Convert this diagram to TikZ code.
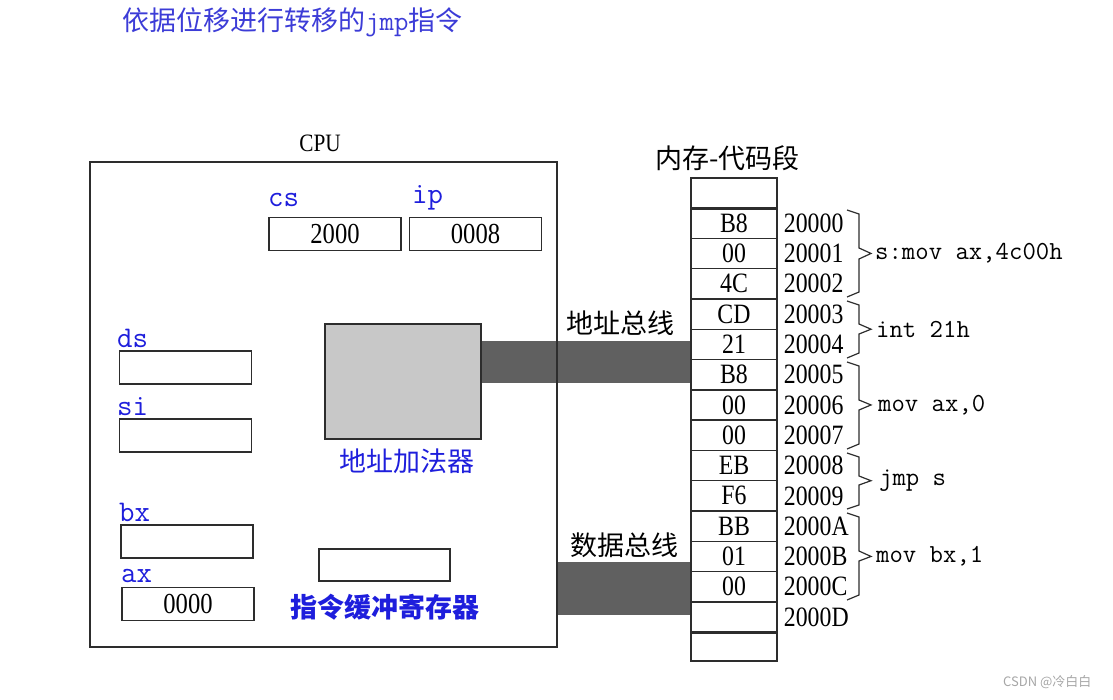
\documentclass[tikz,border=0pt]{standalone}
\usepackage{fontspec}
\newfontfamily\cjk{Noto Sans CJK SC}
\newfontfamily\numfont{Liberation Serif}[FakeStretch=0.85]
\usetikzlibrary{positioning}
\definecolor{regblue}{RGB}{30,30,220}
\definecolor{titleblue}{RGB}{60,60,215}
\definecolor{busgray}{RGB}{96,96,96}
\definecolor{addergray}{RGB}{200,200,200}
\definecolor{linegray}{RGB}{45,45,45}

\tikzset{
  box/.style={draw=linegray, line width=1.4pt, inner sep=0pt},
  reg/.style={box, minimum width=132pt, minimum height=33pt, font=\numfont\fontsize{29}{30}\selectfont},
  cell/.style={box, minimum width=86pt, minimum height=30.3pt, font=\numfont\fontsize{28}{30}\selectfont},
  addr/.style={inner sep=0pt, font=\numfont\fontsize{28}{30}\selectfont},
  regname/.style={anchor=west, inner sep=0pt, text=regblue, font=\ttfamily\fontsize{30}{30}\selectfont},
  code/.style={anchor=west, inner sep=0pt, font=\ttfamily\fontsize{26}{30}\selectfont},
  cjklabel/.style={inner sep=0pt, font=\cjk\fontsize{27}{30}\selectfont},
  bus/.style={busgray},
  brace/.style={linegray, line width=1.2pt},
}

\begin{document}
\begin{tikzpicture}[x=1pt, y=-1pt]
    \useasboundingbox (0,0) rectangle (1113,699);
    % title
    \node[cjklabel, anchor=west, text=titleblue] (title) at (122,22) {依据位移进行转移的{\ttfamily\fontsize{28}{30}\selectfont jmp}指令};

    % memory
    \node[cjklabel, anchor=west] (memlabel) at (655,158) {内存-代码段};
    \node[cell, minimum height=30pt] (top) at (734,193) {};
    \node[cell] (c0) at (734,223.15) {B8};
    \node[cell] (c1) at (734,253.45) {00};
    \node[cell] (c2) at (734,283.75) {4C};
    \node[cell] (c3) at (734,314.05) {CD};
    \node[cell] (c4) at (734,344.35) {21};
    \node[cell] (c5) at (734,374.65) {B8};
    \node[cell] (c6) at (734,404.95) {00};
    \node[cell] (c7) at (734,435.25) {00};
    \node[cell] (c8) at (734,465.55) {EB};
    \node[cell] (c9) at (734,495.85) {F6};
    \node[cell] (c10) at (734,526.15) {BB};
    \node[cell] (c11) at (734,556.45) {01};
    \node[cell] (c12) at (734,586.75) {00};
    \node[cell] (c13) at (734,617.05) {};
    \node[cell, minimum height=29pt] (bottom) at (734,646.5) {};
    \draw[linegray, line width=2.6pt] (top.south west) -- (top.south east);
    \draw[linegray, line width=2.6pt] (c13.south west) -- (c13.south east);

    % addresses
    \node[addr, right=6pt of c0] (a0) {20000};
    \node[addr, right=6pt of c1] (a1) {20001};
    \node[addr, right=6pt of c2] (a2) {20002};
    \node[addr, right=6pt of c3] (a3) {20003};
    \node[addr, right=6pt of c4] (a4) {20004};
    \node[addr, right=6pt of c5] (a5) {20005};
    \node[addr, right=6pt of c6] (a6) {20006};
    \node[addr, right=6pt of c7] (a7) {20007};
    \node[addr, right=6pt of c8] (a8) {20008};
    \node[addr, right=6pt of c9] (a9) {20009};
    \node[addr, right=6pt of c10] (a10) {2000A};
    \node[addr, right=6pt of c11] (a11) {2000B};
    \node[addr, right=6pt of c12] (a12) {2000C};
    \node[addr, right=6pt of c13] (a13) {2000D};

    % instructions
    \draw[brace] (847,210) -- (859,214) -- (859,248) -- (871,253.45) -- (859,259) -- (859,292) -- (847,297);
    \node[code] (i0) at (875,253.45) {s:mov ax,4c00h};
    \draw[brace] (847,301) -- (859,305) -- (859,324) -- (871,329.2) -- (859,334) -- (859,353) -- (847,358);
    \node[code] (i1) at (876,329.2) {int 21h};
    \draw[brace] (847,362) -- (859,366) -- (859,400) -- (871,404.95) -- (859,410) -- (859,444) -- (847,449);
    \node[code] (i2) at (878,404.95) {mov ax,0};
    \draw[brace] (847,453) -- (859,457) -- (859,476) -- (871,480.7) -- (859,485) -- (859,505) -- (847,509);
    \node[code] (i3) at (879,480.7) {jmp s};
    \draw[brace] (847,513) -- (859,517) -- (859,551) -- (871,556.45) -- (859,561) -- (859,595) -- (847,600);
    \node[code] (i4) at (876,556.45) {mov bx,1};

    % buses
    \coordinate (abus) at (481,362);
    \coordinate (dbus) at (557,588);
    \draw[bus, line width=42pt] (abus) -- (abus -| c0.west);
    \draw[bus, line width=53pt] (dbus) -- (dbus -| c0.west);
    \node[cjklabel, anchor=west] (abuslabel) at (566,323) {地址总线};
    \node[cjklabel, anchor=west] (dbuslabel) at (570,545) {数据总线};

    % cpu
    \node[box, minimum width=467pt, minimum height=485pt] (cpu) at (323.5,404.5) {};
    \node[addr, font=\numfont\fontsize{25}{30}\selectfont] (cpulabel) at (320,143) {CPU};
    \node[regname] (csname) at (268,200) {cs};
    \node[reg] (cs) at (335,234) {2000};
    \node[regname] (ipname) at (412,198) {ip};
    \node[reg] (ip) at (475.5,234) {0008};
    \node[regname] (dsname) at (117,338) {ds};
    \node[reg] (ds) at (185.5,367.5) {};
    \node[regname] (siname) at (117,407) {si};
    \node[reg] (si) at (185.5,435.5) {};
    \node[regname] (bxname) at (119,512) {bx};
    \node[reg] (bx) at (187,541.5) {};
    \node[regname] (axname) at (121,576) {ax};
    \node[reg] (ax) at (188,604) {0000};
    \node[box, fill=addergray, minimum width=156pt, minimum height=115pt] (adder) at (403,381.5) {};
    \node[cjklabel, text=regblue, below=9pt of adder, xshift=4pt] (adderlabel) {地址加法器};
    \node[box, minimum width=131pt, minimum height=32pt] (buf) at (384.5,565) {};
    \node[cjklabel, text=regblue, font=\cjk\bfseries\fontsize{27}{30}\selectfont, below=12pt of buf] (buflabel) {指令缓冲寄存器};

    \node[cjklabel, anchor=west, text=gray!70, font=\cjk\fontsize{13}{15}\selectfont] (mark) at (1003,682) {CSDN @冷白白};
\end{tikzpicture}
\end{document}
